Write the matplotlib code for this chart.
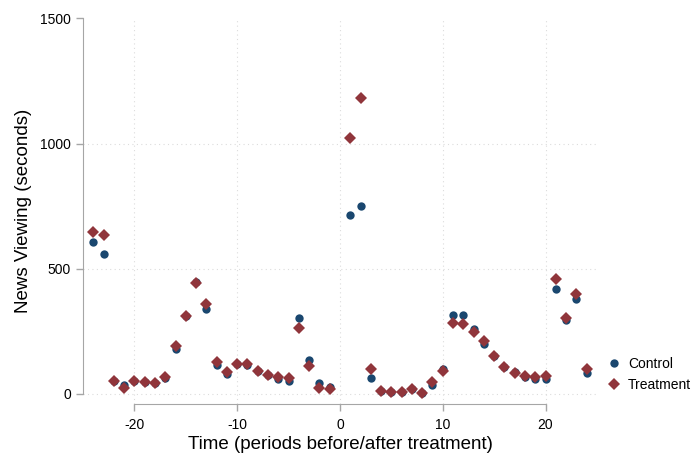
import numpy as np
import matplotlib
matplotlib.use('Agg')
import matplotlib.pyplot as plt

plt.rcParams['font.family'] = ['Liberation Sans', 'DejaVu Sans']
plt.rcParams['axes.unicode_minus'] = False

# periods relative to treatment (no period 0 observed)
periods = [t for t in range(-24, 25) if t != 0]

control = [606, 559, 50, 34, 50, 46, 43, 62, 179, 311, 446, 338, 115, 79, 118, 113,
           91, 73, 58, 50, 301, 133, 41, 27,
           715, 750, 63, 10, 7, 6, 17, 1, 34, 98, 314, 314, 257, 199, 150, 107,
           87, 65, 57, 57, 417, 293, 379, 81]
treatment = [646, 635, 50, 23, 50, 46, 43, 65, 190, 311, 442, 358, 126, 86, 118, 117,
             91, 73, 66, 63, 263, 111, 23, 19,
             1022, 1183, 97, 10, 7, 6, 17, 1, 45, 90, 281, 277, 245, 211, 150, 107,
             83, 69, 66, 69, 457, 303, 397, 98]

xticks = [-20, -10, 0, 10, 20]
yticks = [0, 500, 1000, 1500]

fig = plt.figure(figsize=(6.91, 4.59), dpi=100)
ax = fig.add_axes([0.1201, 0.1198, 0.7438, 0.8399])

ax.plot(periods, control, 'o', color='#1a476f', markersize=6, markeredgewidth=0,
        label='Control', zorder=3)
ax.plot(periods, treatment, 'D', color='#90353b', markersize=6.3, markeredgewidth=0,
        label='Treatment', zorder=4)

ax.set_xlim(-25, 25)
ax.set_ylim(-42, 1500)
ax.set_xticks(xticks)
ax.set_yticks(yticks)

# dotted grid like Stata's, skipping the top line
for y in [0, 500, 1000]:
    ax.axhline(y, color='#dcdcdc', linestyle=(0, (1, 3)), linewidth=0.8, zorder=1)
for x in xticks:
    ax.axvline(x, color='#dcdcdc', linestyle=(0, (1, 3)), linewidth=0.8, zorder=1)

for s in ['top', 'right']:
    ax.spines[s].set_visible(False)
ax.spines['left'].set_bounds(0, 1500)
ax.spines['bottom'].set_bounds(-20, 20)
ax.spines['left'].set_color('#a6a6a6')
ax.spines['bottom'].set_color('#a6a6a6')
ax.tick_params(axis='both', colors='#a6a6a6', labelcolor='black', labelsize=10,
               length=5, width=1)
ax.tick_params(axis='x', pad=5)

ax.set_xlabel('Time (periods before/after treatment)', fontsize=13.5, labelpad=3)
ax.set_ylabel('News Viewing (seconds)', fontsize=13.5, labelpad=6)

ax.legend(loc='lower left', bbox_to_anchor=(0.8784, 0.146),
          bbox_transform=fig.transFigure, frameon=False, fontsize=10,
          handlelength=1, handletextpad=0.5, labelspacing=0.5,
          borderaxespad=0, borderpad=0)

fig.savefig('out.png', dpi=100)
